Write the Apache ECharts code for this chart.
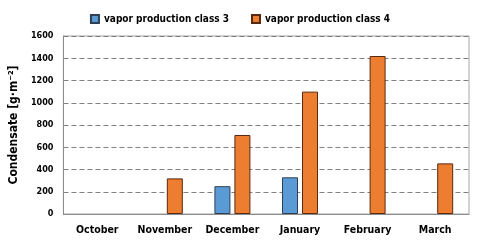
<!DOCTYPE html>
<html><head><meta charset="utf-8">
<script src="https://cdn.jsdelivr.net/npm/echarts@6/dist/echarts.min.js"></script>
<style>html,body{margin:0;padding:0;background:#fff}#c{width:480px;height:243px}</style>
</head><body><div id="c"></div>
<script>
const categories = ['October','November','December','January','February','March'];
const class3 = [0, 0, 250, 330, 0, 0];
const class4 = [0, 320, 710, 1100, 1420, 455];
const yTicks = [0, 200, 400, 600, 800, 1000, 1200, 1400, 1600];

const FONT = 'DejaVu Sans Condensed, Liberation Sans, sans-serif';
const hideZero = arr => arr.map(v => v === 0 ? null : v);
const chart = echarts.init(document.getElementById('c'), null, {renderer:'canvas'});
chart.setOption({
  animation: false,
  textStyle: {fontFamily: FONT},
  legend: {
    top: 9, left: 'center', itemWidth: 8, itemHeight: 8, itemGap: 22, icon: 'rect',
    textStyle: {fontSize: 10, fontWeight: 'bold', color: '#000', fontFamily: FONT},
    data: ['vapor production class 3', 'vapor production class 4']
  },
  grid: {left: 62, right: 11, top: 36, bottom: 29, show: true, borderColor: '#a6a6a6', borderWidth: 1},
  xAxis: {
    type: 'category', data: categories,
    axisLine: {lineStyle: {color: '#8c8c8c'}},
    axisTick: {show: false},
    axisLabel: {interval: 0, fontSize: 10.5, fontWeight: 'bold', color: '#000', margin: 11, fontFamily: FONT}
  },
  yAxis: {
    type: 'value', min: yTicks[0], max: yTicks[yTicks.length-1], interval: 200,
    name: 'Condensate [g·m⁻²]', nameLocation: 'middle', nameGap: 39,
    nameTextStyle: {fontSize: 12, fontWeight: 'bold', color: '#000', fontFamily: FONT},
    axisLine: {show: true, lineStyle: {color: '#8c8c8c'}},
    axisTick: {show: false},
    axisLabel: {fontSize: 9, fontWeight: 'bold', color: '#000', margin: 10, fontFamily: FONT,
      formatter: v => String(v)},
    splitLine: {lineStyle: {color: '#7f7f7f', type: [5, 3], width: 1}}
  },
  series: [
    {name: 'vapor production class 3', type: 'bar', data: hideZero(class3), barWidth: 16, barGap: '25%',
     itemStyle: {color: '#5b9bd5', borderColor: '#2f3f55', borderWidth: 1}},
    {name: 'vapor production class 4', type: 'bar', data: hideZero(class4), barWidth: 16,
     itemStyle: {color: '#ed7d31', borderColor: '#5a2a10', borderWidth: 1}}
  ]
});
</script></body></html>
